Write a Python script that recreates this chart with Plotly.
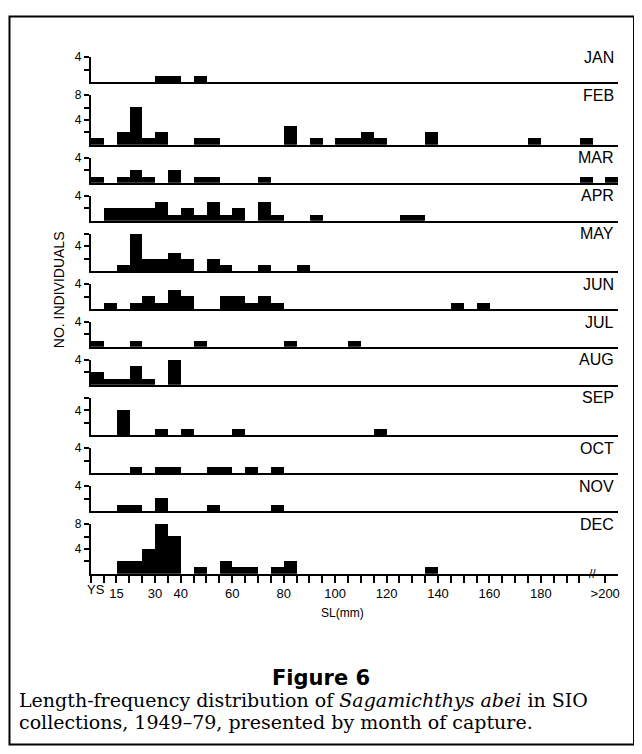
import plotly.graph_objects as go

# ---------------- data (bin start in mm SL, 5-mm bins; 5 = YS, 205 = >200) ----
months = ["JAN", "FEB", "MAR", "APR", "MAY", "JUN", "JUL", "AUG", "SEP", "OCT", "NOV", "DEC"]

jan_bins = [30, 35, 45]
jan_n = [1, 1, 1]
feb_bins = [5, 15, 20, 25, 30, 45, 50, 80, 90, 100, 105, 110, 115, 135, 175, 195]
feb_n = [1, 2, 6, 1, 2, 1, 1, 3, 1, 1, 1, 2, 1, 2, 1, 1]
mar_bins = [5, 15, 20, 25, 35, 45, 50, 70, 195, 205]
mar_n = [1, 1, 2, 1, 2, 1, 1, 1, 1, 1]
apr_bins = [10, 15, 20, 25, 30, 35, 40, 45, 50, 55, 60, 70, 75, 90, 125, 130]
apr_n = [2, 2, 2, 2, 3, 1, 2, 1, 3, 1, 2, 3, 1, 1, 1, 1]
may_bins = [15, 20, 25, 30, 35, 40, 50, 55, 70, 85]
may_n = [1, 6, 2, 2, 3, 2, 2, 1, 1, 1]
jun_bins = [10, 20, 25, 30, 35, 40, 55, 60, 65, 70, 75, 145, 155]
jun_n = [1, 1, 2, 1, 3, 2, 2, 2, 1, 2, 1, 1, 1]
jul_bins = [5, 20, 45, 80, 105]
jul_n = [1, 1, 1, 1, 1]
aug_bins = [5, 10, 15, 20, 25, 35]
aug_n = [2, 1, 1, 3, 1, 6]
sep_bins = [15, 30, 40, 60, 115]
sep_n = [4, 1, 1, 1, 1]
oct_bins = [20, 30, 35, 50, 55, 65, 75]
oct_n = [1, 1, 1, 1, 1, 1, 1]
nov_bins = [15, 20, 30, 50, 75]
nov_n = [1, 1, 2, 1, 1]
dec_bins = [15, 20, 25, 30, 35, 45, 55, 60, 65, 75, 80, 135]
dec_n = [2, 2, 4, 9, 6, 1, 2, 1, 1, 1, 2, 1]

axis_tops = [4, 8, 4, 4, 6, 4, 4, 4, 6, 4, 4, 8]

x_tick_vals = list(range(5, 200, 5)) + [205]
x_label_vals = [15, 30, 40, 60, 80, 100, 120, 140, 160, 180, 205]
x_label_text = ["15", "30", "40", "60", "80", "100", "120", "140", "160", "180", ">200"]

all_bins = [jan_bins, feb_bins, mar_bins, apr_bins, may_bins, jun_bins,
            jul_bins, aug_bins, sep_bins, oct_bins, nov_bins, dec_bins]
all_n = [jan_n, feb_n, mar_n, apr_n, may_n, jun_n,
         jul_n, aug_n, sep_n, oct_n, nov_n, dec_n]

# ---------------- layout geometry (pixels in the final screenshot) ----------------
OFF = 8                       # page body margin added by the browser
W, H = 642 - OFF, 754 - 2 * OFF   # keep the page from overflowing the window
X0_PX, X1_PX = 91, 620
XMIN, XMAX = 5, 210
UNIT = 6.25          # px per individual
GAP = 13.3           # px between baseline and next panel's top tick
FIRST_BASE = 75.7


def fx(p):
    return (p - OFF) / W


def fy(p):
    return 1 - (p - OFF) / H


fig = go.Figure()
baselines = []
b = FIRST_BASE
for i in range(12):
    if i > 0:
        b = b + GAP + axis_tops[i] * UNIT
    baselines.append(b)

layout = dict(
    width=W, height=H,
    margin=dict(l=0, r=0, t=0, b=0),
    paper_bgcolor="white", plot_bgcolor="white",
    showlegend=False,
    bargap=0,
)

annotations = []
for i, m in enumerate(months):
    n = i + 1
    xa = "x" if n == 1 else f"x{n}"
    ya = "y" if n == 1 else f"y{n}"
    base = baselines[i]
    top = base - axis_tops[i] * UNIT
    fig.add_trace(go.Bar(
        x=[v + 2.5 for v in all_bins[i]], y=all_n[i], width=5,
        marker=dict(color="black", line=dict(width=0)),
        xaxis=xa, yaxis=ya, cliponaxis=False, hoverinfo="x+y",
    ))
    is_last = (i == 11)
    xkey = "xaxis" if n == 1 else f"xaxis{n}"
    ykey = "yaxis" if n == 1 else f"yaxis{n}"
    xdict = dict(
        domain=[fx(X0_PX), fx(X1_PX)], range=[XMIN, XMAX], anchor=ya,
        showline=True, linecolor="black", linewidth=2,
        showgrid=False, zeroline=False, fixedrange=True,
    )
    if is_last:
        tv = x_tick_vals
        tt = []
        for v in tv:
            if v in x_label_vals:
                tt.append(x_label_text[x_label_vals.index(v)])
            else:
                tt.append("")
        xdict.update(tickmode="array", tickvals=tv, ticktext=tt,
                     ticks="outside", ticklen=7, tickwidth=1.5, tickcolor="black",
                     tickfont=dict(family="Liberation Sans", size=13, color="black"))
    else:
        xdict.update(showticklabels=False, ticks="")
    layout[xkey] = xdict

    yt = list(range(2, axis_tops[i] + 1, 2))
    ytt = [str(v) if v in (4, 8) else "" for v in yt]
    layout[ykey] = dict(
        domain=[fy(base), fy(top)], range=[0, axis_tops[i]], anchor=xa,
        showline=True, linecolor="black", linewidth=2,
        showgrid=False, zeroline=False, fixedrange=True,
        tickmode="array", tickvals=yt, ticktext=ytt,
        ticks="outside", ticklen=5, tickwidth=1.5, tickcolor="black",
        tickfont=dict(family="Liberation Sans", size=12, color="black"),
    )
    annotations.append(dict(
        text=m, xref="paper", yref="paper", x=fx(618), y=fy(top),
        xanchor="right", yanchor="middle", showarrow=False,
        font=dict(family="Liberation Sans", size=16, color="black"),
    ))

last_base = baselines[-1]
# YS label and axis break
annotations.append(dict(text="YS", xref="paper", yref="paper",
                        x=fx(96), y=fy(last_base + 16), xanchor="center", yanchor="middle",
                        showarrow=False, font=dict(family="Liberation Sans", size=13, color="black")))
annotations.append(dict(text="//", xref="x12", yref="paper",
                        x=200, y=fy(last_base), xanchor="center", yanchor="middle",
                        showarrow=False, font=dict(family="Liberation Sans", size=12, color="black")))
annotations.append(dict(text="SL(mm)", xref="paper", yref="paper",
                        x=fx(344), y=fy(612), xanchor="center", yanchor="middle",
                        showarrow=False, font=dict(family="Liberation Sans", size=12, color="black")))
annotations.append(dict(text="NO. INDIVIDUALS", xref="paper", yref="paper",
                        x=fx(60), y=fy(285), xanchor="center", yanchor="middle", textangle=-90,
                        showarrow=False, font=dict(family="Liberation Sans", size=14, color="black")))
annotations.append(dict(text="<b>Figure 6</b>", xref="paper", yref="paper",
                        x=fx(322), y=fy(677), xanchor="center", yanchor="middle",
                        showarrow=False, font=dict(family="DejaVu Sans", size=21, color="black")))
annotations.append(dict(text="Length-frequency distribution of <i>Sagamichthys abei</i> in SIO",
                        xref="paper", yref="paper", x=fx(17), y=fy(700), xanchor="left", yanchor="middle",
                        showarrow=False, font=dict(family="DejaVu Serif", size=19, color="black")))
annotations.append(dict(text="collections, 1949\u201379, presented by month of capture.",
                        xref="paper", yref="paper", x=fx(17), y=fy(722), xanchor="left", yanchor="middle",
                        showarrow=False, font=dict(family="DejaVu Serif", size=19, color="black")))

layout["annotations"] = annotations
layout["shapes"] = [dict(type="rect", xref="paper", yref="paper",
                         x0=fx(9.5), x1=fx(636), y0=fy(9.5), y1=fy(744.5),
                         line=dict(color="black", width=2), fillcolor="rgba(0,0,0,0)")]

fig.update_layout(**layout)
fig.write_html("out.html")
